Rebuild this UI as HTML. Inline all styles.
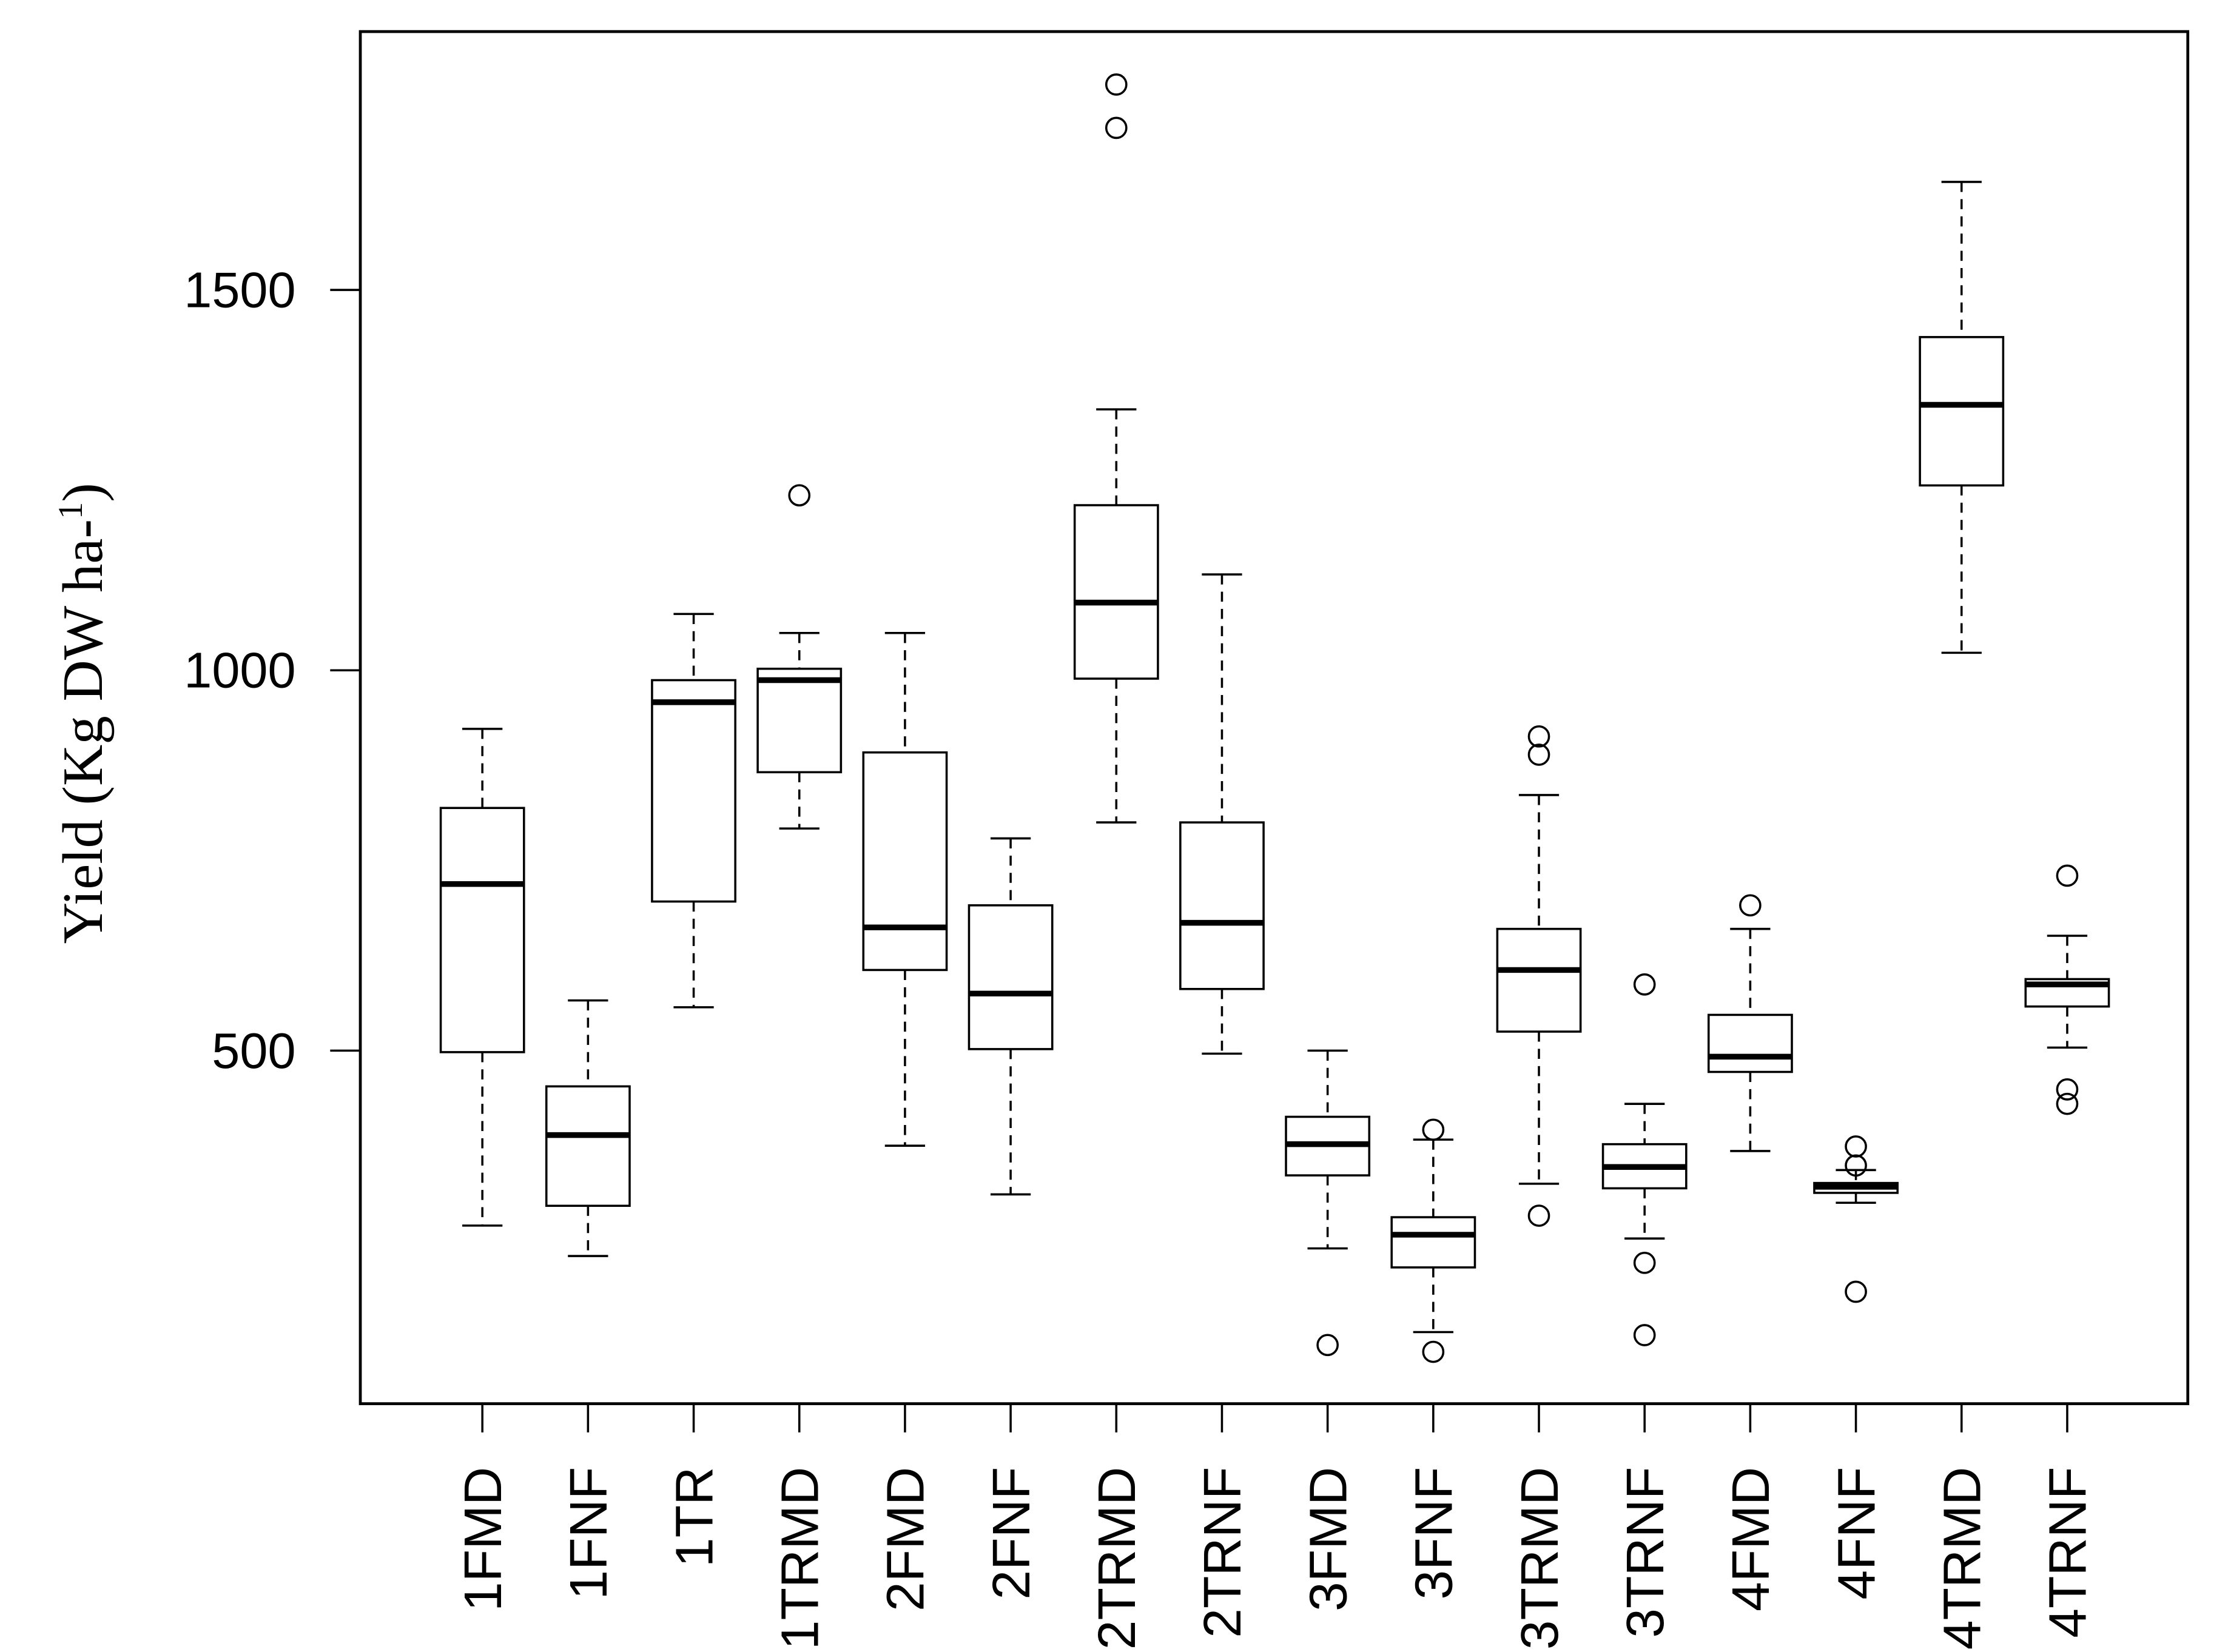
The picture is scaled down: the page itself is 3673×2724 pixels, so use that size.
<!DOCTYPE html>
<html><head><meta charset="utf-8"><style>
html,body{margin:0;padding:0;background:#fff;}
svg{display:block;}
</style></head><body>
<svg id="chart" width="3673" height="2724" viewBox="0 0 1552 1151" preserveAspectRatio="none" xmlns="http://www.w3.org/2000/svg">
<rect x="251" y="22" width="1273" height="956" fill="none" stroke="#000" stroke-width="2"/>
<g id="yaxis"></g>
<g id="xaxis"></g>
<g id="boxes"></g>
<text transform="translate(71,497) rotate(-90)" text-anchor="middle" font-family="Liberation Serif, serif" font-size="40">Yield (Kg DW ha-<tspan font-size="24" dy="-14">1</tspan><tspan dy="14">)</tspan></text>
</svg>
<script>
const categories=["1FMD","1FNF","1TR","1TRMD","2FMD","2FNF","2TRMD","2TRNF","3FMD","3FNF","3TRMD","3TRNF","4FMD","4FNF","4TRMD","4TRNF"];
const whiskerLow=[270,230,557,792,375,311,800,496,240,130,325,253,368,300,1023,504];
const q1=[498,296,696,866,606,502,989,581,336,215,525,319,472,313,1243,558];
const medians=[719,389,958,987,662,575,1089,668,377,258,606,347,492,321,1349,587];
const q3=[819,453,987,1002,892,691,1217,800,413,281,660,377,547,326,1438,594];
const whiskerHigh=[923,566,1074,1049,1049,779,1343,1126,500,383,836,430,660,343,1642,651];
const outliers=[[],[],[],[1230],[],[],[1770,1713],[],[113],[396,104],[913,889,283],[587,221,126],[691],[374,349,183],[],[730,449,430]];
const yTicks=[500,1000,1500];
const NS="http://www.w3.org/2000/svg";
function yS(v){return 997-v*0.53;}
function xS(i){return 336+73.6*i;}
function mk(tag,attrs,parent){const e=document.createElementNS(NS,tag);for(const k in attrs)e.setAttribute(k,attrs[k]);parent.appendChild(e);return e;}
const ya=document.getElementById('yaxis'),xa=document.getElementById('xaxis'),bx=document.getElementById('boxes');
yTicks.forEach(t=>{
  const l=mk('line',{x1:230,x2:251,y1:yS(t),y2:yS(t),stroke:'#000','stroke-width':1.5},ya);
  
  
  const tx=mk('text',{x:206,y:yS(t)+12,'text-anchor':'end','font-family':'Liberation Sans, sans-serif','font-size':35},ya);
  tx.textContent=t;
  
  
});
categories.forEach((c,i)=>{
  const x=xS(i),w=29;
  const tk=mk('line',{x1:x,x2:x,y1:978,y2:998,stroke:'#000','stroke-width':1.5},xa);
  
  
  const tx=mk('text',{transform:`translate(${x+13},1022) rotate(-90)`,'text-anchor':'end','font-family':'Liberation Sans, sans-serif','font-size':37},xa);
  tx.textContent=c;
  
  
  const g=mk('g',{},bx);
  
  
  mk('line',{x1:x,x2:x,y1:yS(whiskerHigh[i]),y2:yS(q3[i]),stroke:'#000','stroke-width':1.5,'stroke-dasharray':'7,5'},g);
  mk('line',{x1:x,x2:x,y1:yS(q1[i]),y2:yS(whiskerLow[i]),stroke:'#000','stroke-width':1.5,'stroke-dasharray':'7,5'},g);
  mk('line',{x1:x-14,x2:x+14,y1:yS(whiskerHigh[i]),y2:yS(whiskerHigh[i]),stroke:'#000','stroke-width':1.5},g);
  mk('line',{x1:x-14,x2:x+14,y1:yS(whiskerLow[i]),y2:yS(whiskerLow[i]),stroke:'#000','stroke-width':1.5},g);
  mk('rect',{x:x-w,y:yS(q3[i]),width:2*w,height:yS(q1[i])-yS(q3[i]),fill:'#fff',stroke:'#000','stroke-width':1.5},g);
  mk('line',{x1:x-w,x2:x+w,y1:yS(medians[i]),y2:yS(medians[i]),stroke:'#000','stroke-width':4},g);
  outliers[i].forEach(o=>{
    const p=mk('circle',{cx:x,cy:yS(o),r:7,fill:'none',stroke:'#000','stroke-width':1.5},g);
    
    
  });
});
</script>
</body></html>
